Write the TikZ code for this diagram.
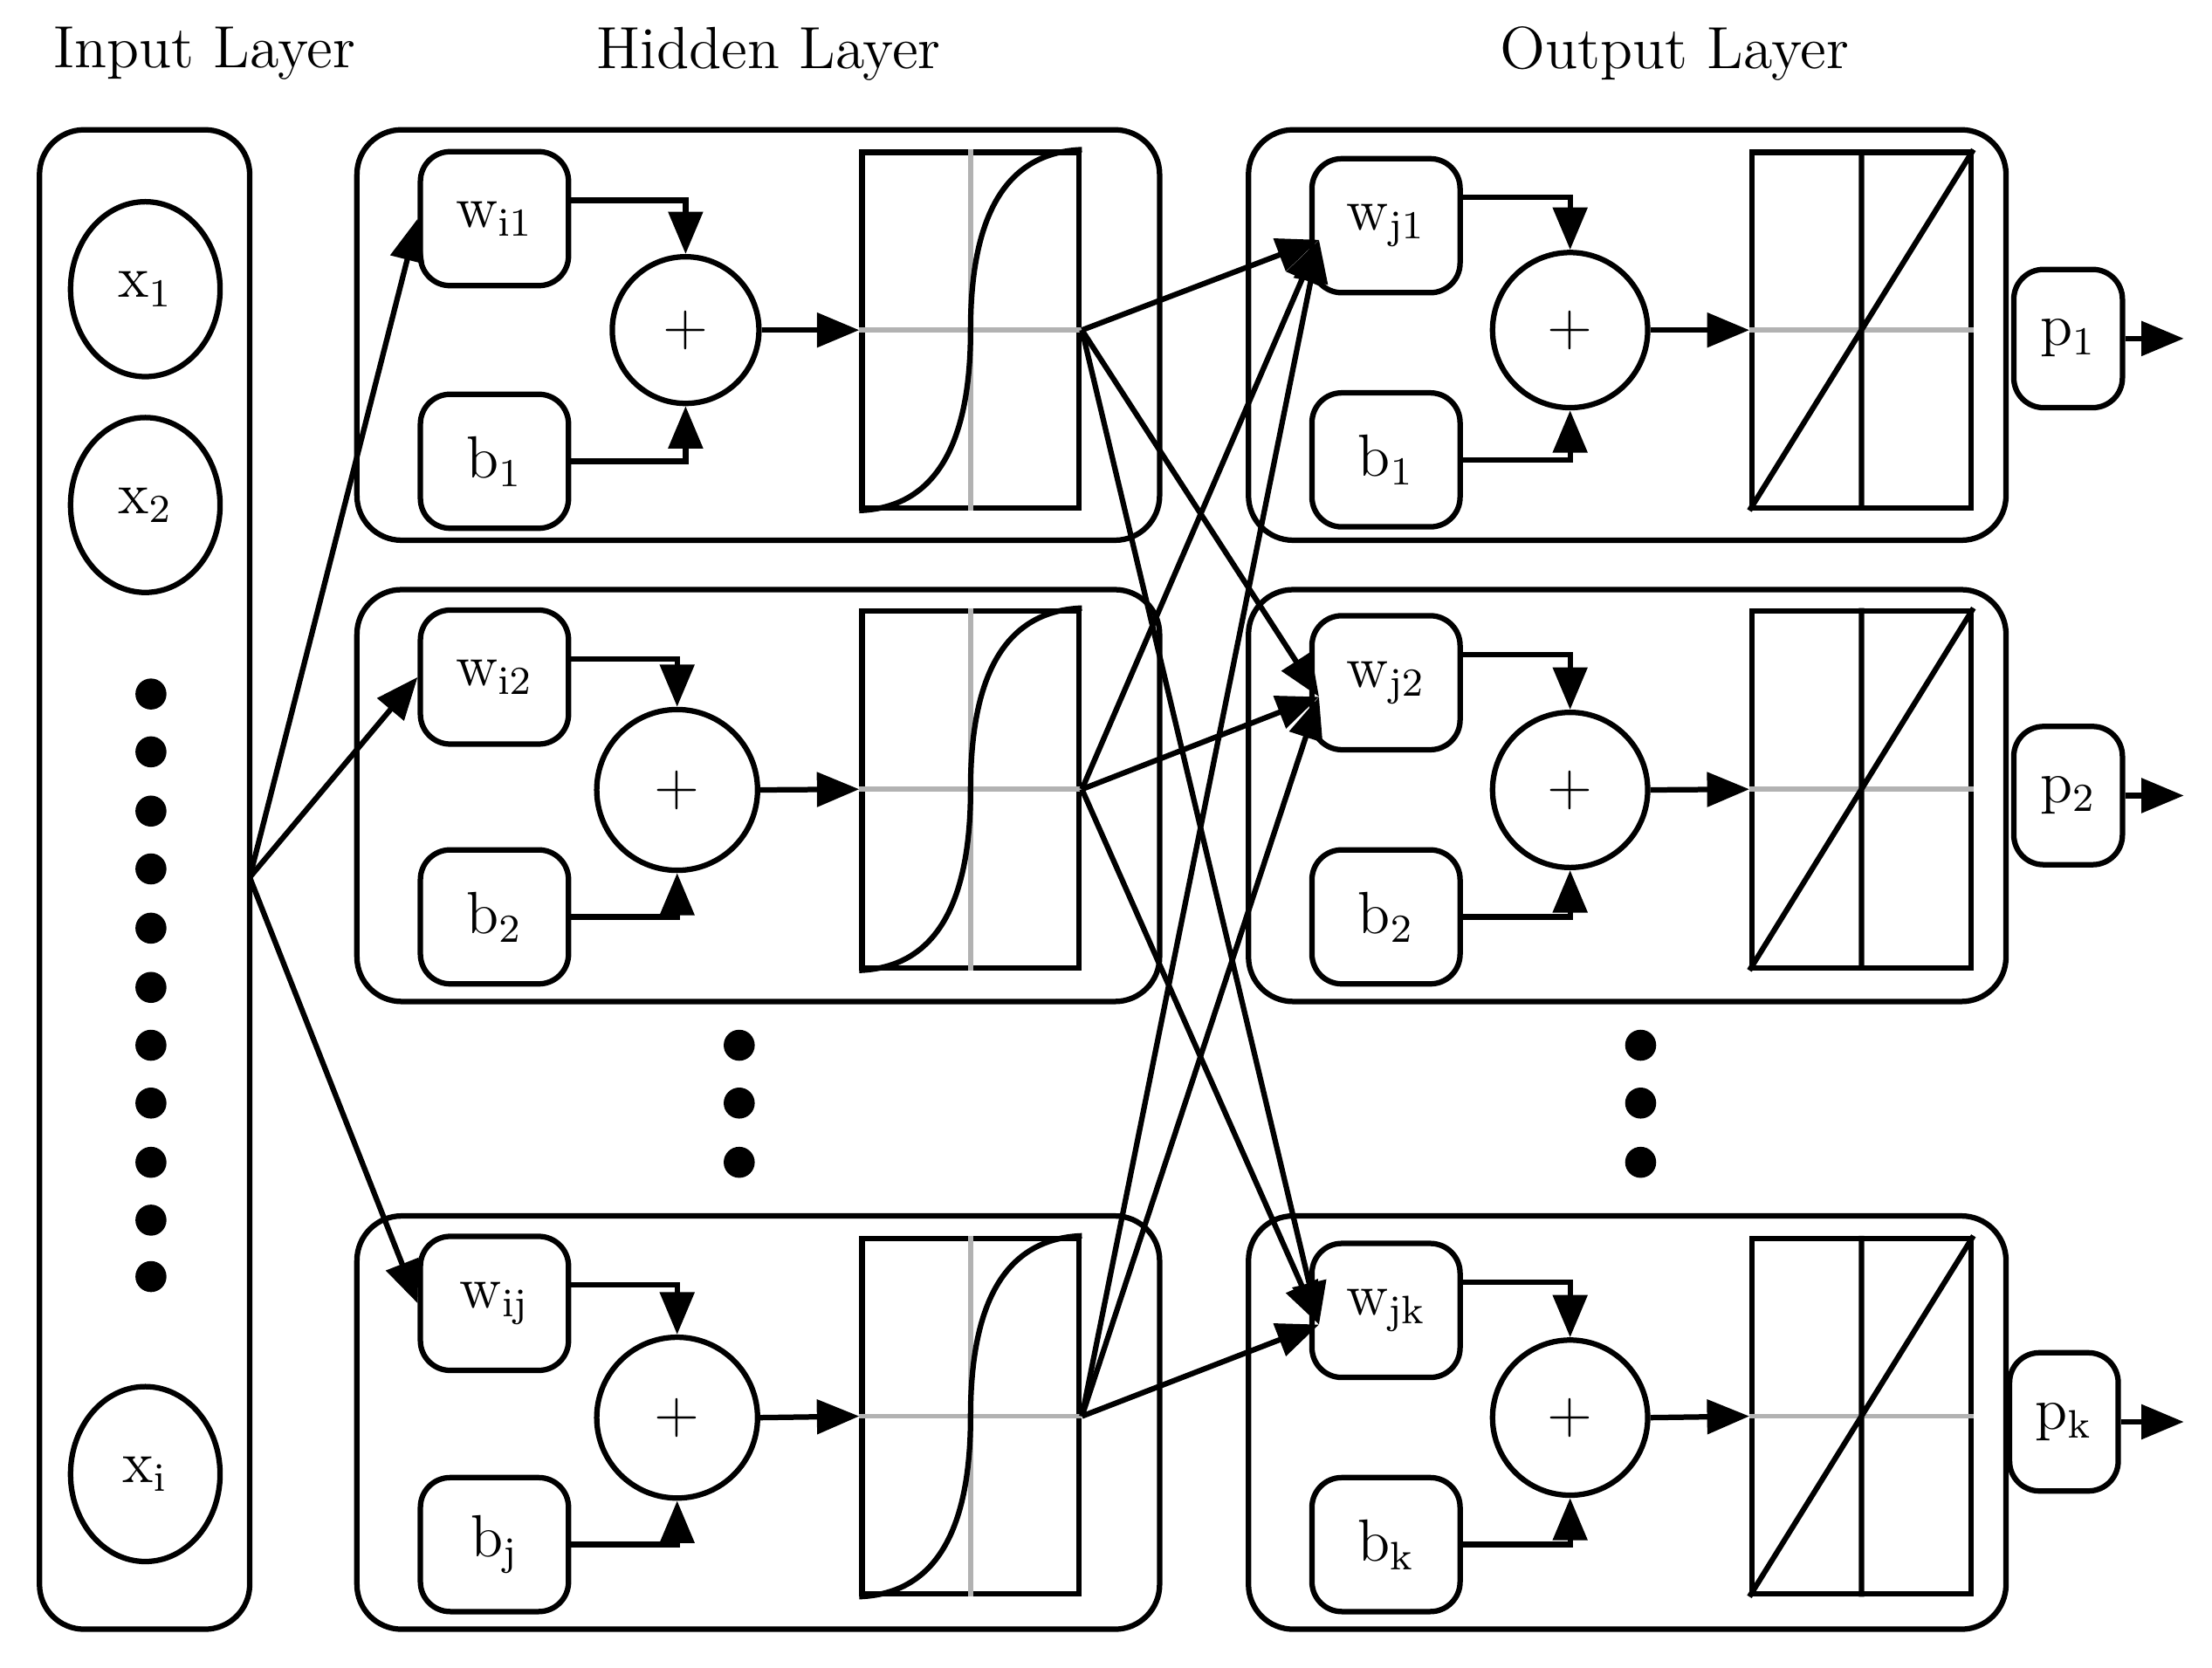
\documentclass[tikz,border=0pt]{standalone}
\usetikzlibrary{shapes.geometric,arrows.meta}
\begin{document}
\begin{tikzpicture}[x=0.1mm,y=-0.1mm,
  lw/.style={line width=1.1pt},
  box/.style={draw,lw,rounded corners=9pt},
  sbox/.style={draw,lw,rounded corners=6pt,minimum width=10.5mm,minimum height=9.5mm,inner sep=0pt,font=\large},
  sum/.style={draw,lw,circle,inner sep=0pt,font=\large},
  arr/.style={lw,-{Triangle[length=3mm,width=2.4mm]}},
  dot/.style={circle,fill,inner sep=0pt,minimum size=2.2mm},
  ttl/.style={font=\large}]
\useasboundingbox (0,0) rectangle (1568,1182);
\node[ttl] (t1) at (145,38) {Input Layer};
\node[ttl] (t2) at (545,38) {Hidden Layer};
\node[ttl] (t3) at (1187,38) {Output Layer};
% input
\node[box,minimum width=14.9mm,minimum height=106.3mm] (inp) at (102.5,623.5) {};
\node[draw,lw,ellipse,minimum width=10.6mm,minimum height=12.4mm,font=\large] (x1) at (103,205) {$\mathrm{x}_1$};
\node[draw,lw,ellipse,minimum width=10.6mm,minimum height=12.4mm,font=\large] (x2) at (103,358) {$\mathrm{x}_2$};
\node[draw,lw,ellipse,minimum width=10.6mm,minimum height=12.4mm,font=\large] (xi) at (103,1045) {$\mathrm{x}_{\mathrm{i}}$};
\foreach \y [count=\k] in {492,533,575,616,658,700,741,782,824,865,905} \node[dot] (id\k) at (107,\y) {};
\coordinate (src) at (177,622);
% hidden rows
\foreach \r/\bt/\bb/\wy/\by/\cx/\cr/\st/\sb/\my/\wl/\bl in
 {1/92/383/155/327/486/52/108/360/234/{i1}/1,
  2/418/710/480/650/480/57/433/686/560/{i2}/2,
  3/862/1155/924/1095/480/57/878/1130/1005/{ij}/j}{
  \node[box,minimum width=56.9mm,minimum height={(\bb-\bt)*0.1mm}] (hb\r) at (537.5,{(\bt+\bb)/2}) {};
  \node[sbox] (hw\r) at (350.5,\wy) {$\mathrm{w}_{\mathrm{\wl}}$};
  \node[sbox] (hbb\r) at (350.5,\by) {$\mathrm{b}_{\mathrm{\bl}}$};
  \node[sum,minimum size={2*\cr*0.1mm}] (hs\r) at (\cx,\my) {$+$};
  \node[draw,lw,minimum width=15.4mm,minimum height={(\sb-\st)*0.1mm},inner sep=0pt] (hf\r) at (688,{(\st+\sb)/2}) {};
  \draw[gray!60,line width=1pt] (hf\r.north) -- (hf\r.south) (hf\r.west) -- (hf\r.east);
  \draw[lw] (hf\r.south west) .. controls (660,\sb) and (688,{\sb-40}) .. (688,{(\st+\sb)/2}) .. controls (688,{\st+40}) and (716,\st) .. (hf\r.north east);
  \draw[arr] (hw\r.east |- 0,{\wy-13}) -| (hs\r.north);
  \draw[arr] (hbb\r.east) -| (hs\r.south);
  \draw[arr] (hs\r.east) -- (hf\r.west);
  \draw[arr] (src) -- (hw\r.west);
}
\foreach \y [count=\k] in {741,782,824} \node[dot] (hd\k) at (524,\y) {};
% output rows
\foreach \r/\bt/\bb/\wy/\by/\st/\sb/\my/\px/\py/\wl/\bl/\pl in
 {1/92/383/160/326/108/360/234/1466/240/{j1}/1/1,
  2/418/710/484/650/433/686/560/1466/564/{j2}/2/2,
  3/862/1155/929/1095/878/1130/1005/1463/1008/{jk}/k/k}{
  \node[box,minimum width=53.7mm,minimum height={(\bb-\bt)*0.1mm}] (ob\r) at (1153.5,{(\bt+\bb)/2}) {};
  \node[sbox] (ow\r) at (982.5,\wy) {$\mathrm{w}_{\mathrm{\wl}}$};
  \node[sbox] (obb\r) at (982.5,\by) {$\mathrm{b}_{\mathrm{\bl}}$};
  \node[sum,minimum size=11mm] (os\r) at (1113,\my) {$+$};
  \node[draw,lw,minimum width=15.5mm,minimum height={(\sb-\st)*0.1mm},inner sep=0pt] (of\r) at (1319.5,{(\st+\sb)/2}) {};
  \draw[gray!60,line width=1pt] (of\r.west) -- (of\r.east);
  \draw[lw] (of\r.north) -- (of\r.south) (of\r.south west) -- (of\r.north east);
  \draw[arr] (ow\r.east |- 0,{\wy-20}) -| (os\r.north);
  \draw[arr] (obb\r.east) -| (os\r.south);
  \draw[arr] (os\r.east) -- (of\r.west);
  \node[sbox,minimum width=7.7mm,minimum height=9.8mm] (p\r) at (\px,\py) {$\mathrm{p}_{\mathrm{\pl}}$};
  \coordinate (pe\r) at (1548,\py);
  \draw[arr] (p\r.east) -- (pe\r);
  \coordinate (tg\r) at (935,{\wy+10});
}
\foreach \y [count=\k] in {741,782,824} \node[dot] (od\k) at (1163,\y) {};
% connections
\foreach \h in {1,2,3}{\foreach \o in {1,2,3}{\draw[arr] (hf\h.east) -- (tg\o);}}
\end{tikzpicture}
\end{document}
